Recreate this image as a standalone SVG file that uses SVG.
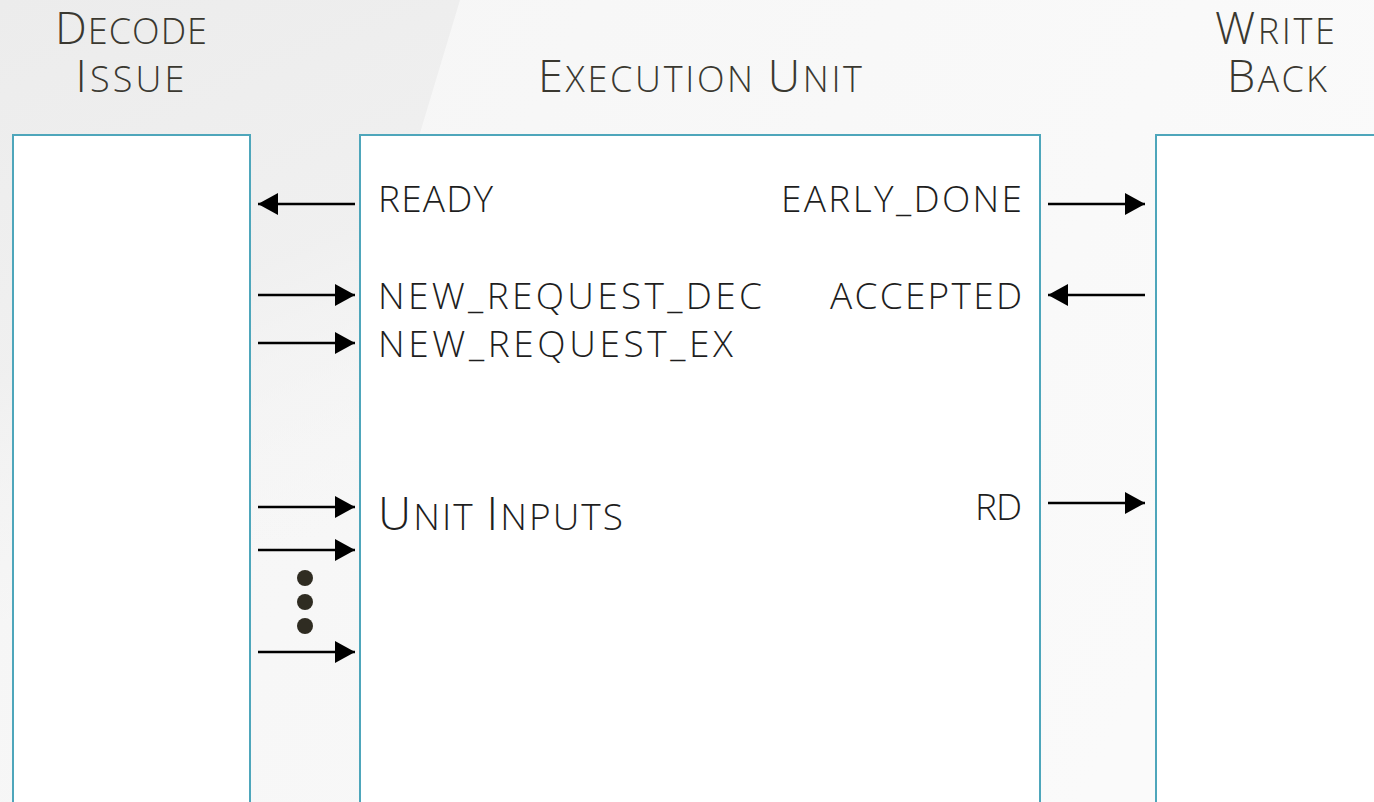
<svg xmlns="http://www.w3.org/2000/svg" width="1374" height="802" viewBox="0 0 1374 802">
  <defs>
    <linearGradient id="bg" x1="0" y1="0" x2="1" y2="0.3">
      <stop offset="0" stop-color="#f5f5f5"/>
      <stop offset="1" stop-color="#fafafa"/>
    </linearGradient>
    <linearGradient id="shade" x1="0" y1="0" x2="0.3" y2="1">
      <stop offset="0" stop-color="#ececec" stop-opacity="1"/>
      <stop offset="0.55" stop-color="#efefef" stop-opacity="0.9"/>
      <stop offset="1" stop-color="#f5f5f5" stop-opacity="0"/>
    </linearGradient>
    <marker id="head" viewBox="0 0 20 22" refX="20" refY="11" markerWidth="20" markerHeight="22" markerUnits="userSpaceOnUse" orient="auto">
      <path d="M0,0 L20,11 L0,22 Z" fill="#000"/>
    </marker>
    <style>
      .box { fill: #ffffff; stroke: #4ea6bb; stroke-width: 2; }
      .title { font-family: "Open Sans", "Liberation Sans", sans-serif; font-weight: 300; fill: #3a3830; font-size: 36px; text-anchor: middle; }
      .title .cap { font-size: 45px; }
      .sig { font-family: "Open Sans", "Liberation Sans", sans-serif; font-weight: 300; fill: #1e1e1e; font-size: 37px; }
      .sig .cap { font-size: 46px; }
      .right { text-anchor: end; }
      .wire { stroke: #000; stroke-width: 2.5; fill: none; marker-end: url(#head); }
      .dot { fill: #2f2c22; }
    </style>
  </defs>

  <!-- slide background -->
  <rect x="0" y="0" width="1374" height="802" fill="url(#bg)"/>
  <polygon points="0,0 460,0 420,133 360,560 0,620" fill="url(#shade)"/>

  <!-- stage titles -->
  <g id="title-decode">
    <text class="title" x="131" y="44" textLength="152" lengthAdjust="spacing"><tspan class="cap">D</tspan>ECODE</text>
    <text class="title" x="130" y="92" textLength="109" lengthAdjust="spacing"><tspan class="cap">I</tspan>SSUE</text>
  </g>
  <g id="title-exec">
    <text class="title" x="700" y="92" textLength="324" lengthAdjust="spacing"><tspan class="cap">E</tspan>XECUTION <tspan class="cap">U</tspan>NIT</text>
  </g>
  <g id="title-wb">
    <text class="title" x="1275" y="44" textLength="120" lengthAdjust="spacing"><tspan class="cap">W</tspan>RITE</text>
    <text class="title" x="1277" y="92" textLength="100" lengthAdjust="spacing"><tspan class="cap">B</tspan>ACK</text>
  </g>

  <!-- stage blocks -->
  <g id="decode-issue">
    <rect class="box" x="13" y="135" width="237" height="700"/>
  </g>
  <g id="execution-unit">
    <rect class="box" x="360" y="135" width="680" height="700"/>
    <text class="sig" x="378" y="212" textLength="115" lengthAdjust="spacing">READY</text>
    <text class="sig" x="378" y="309" textLength="384" lengthAdjust="spacing">NEW_REQUEST_DEC</text>
    <text class="sig" x="378" y="357" textLength="355" lengthAdjust="spacing">NEW_REQUEST_EX</text>
    <text class="sig" x="378" y="530" textLength="245" lengthAdjust="spacing"><tspan class="cap">U</tspan>NIT <tspan class="cap">I</tspan>NPUTS</text>
    <text class="sig right" x="1022" y="212" textLength="241" lengthAdjust="spacing">EARLY_DONE</text>
    <text class="sig right" x="1022" y="309" textLength="192" lengthAdjust="spacing">ACCEPTED</text>
    <text class="sig right" x="1022" y="520" textLength="47" lengthAdjust="spacing">RD</text>
  </g>
  <g id="write-back">
    <rect class="box" x="1156" y="135" width="240" height="700"/>
  </g>

  <!-- connectors -->
  <g id="connectors">
    <line class="wire" x1="355" y1="204" x2="258" y2="204"/>
    <line class="wire" x1="258" y1="295" x2="355" y2="295"/>
    <line class="wire" x1="258" y1="343" x2="355" y2="343"/>
    <line class="wire" x1="258" y1="507" x2="355" y2="507"/>
    <line class="wire" x1="258" y1="550" x2="355" y2="550"/>
    <line class="wire" x1="258" y1="652" x2="355" y2="652"/>
    <line class="wire" x1="1048" y1="204" x2="1145" y2="204"/>
    <line class="wire" x1="1145" y1="295" x2="1048" y2="295"/>
    <line class="wire" x1="1048" y1="503" x2="1145" y2="503"/>
    <circle class="dot" cx="305" cy="578" r="8"/>
    <circle class="dot" cx="305" cy="602" r="8"/>
    <circle class="dot" cx="305" cy="626" r="8"/>
  </g>
</svg>
